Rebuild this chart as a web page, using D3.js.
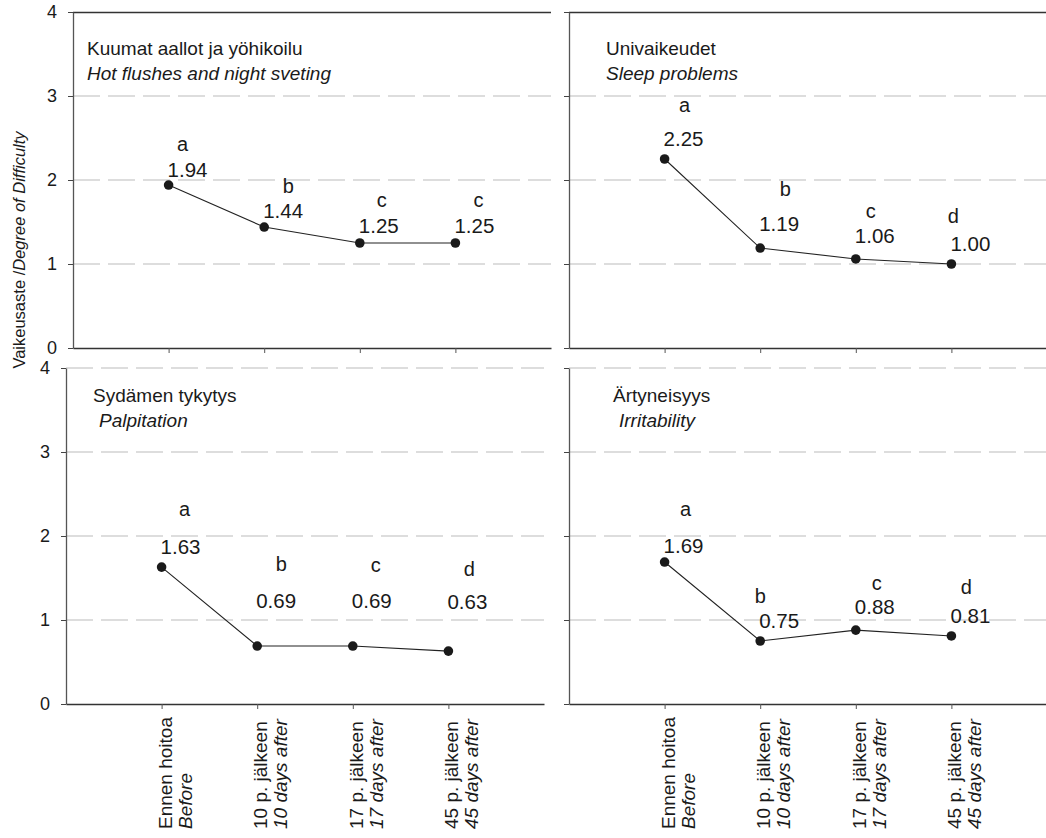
<!DOCTYPE html>
<html>
<head>
<meta charset="utf-8">
<script src="https://cdn.jsdelivr.net/npm/d3@7"></script>
<style>
  body { margin: 0; background: #fff; }
  svg { display: block; font-family: "Liberation Sans", Arial, sans-serif; }
</style>
</head>
<body>
<svg id="chart" width="1046" height="838"></svg>
<script>
// data
const categoriesFi = ["Ennen hoitoa", "10 p. jälkeen", "17 p. jälkeen", "45 p. jälkeen"];
const categoriesEn = ["Before", "10 days after", "17 days after", "45 days after"];
const yTicks = [0, 1, 2, 3, 4];

const hotFlushes = [1.94, 1.44, 1.25, 1.25];
const sleepProblems = [2.25, 1.19, 1.06, 1.00];
const palpitation = [1.63, 0.69, 0.69, 0.63];
const irritability = [1.69, 0.75, 0.88, 0.81];

const hotFlushesSig = ["a", "b", "c", "c"];
const sleepSig = ["a", "b", "c", "d"];
const palpitationSig = ["a", "b", "c", "d"];
const irritabilitySig = ["a", "b", "c", "d"];

// annotation placement (px): value baseline above point, letter offset from value
const hotValueDy = [-8, -9, -10, -10];
const hotLetter = [[14, -26], [24, -25], [22, -26], [23, -26]];
const sleepValueDy = [-13, -17, -16, -13];
const sleepLetter = [[20, -34], [25, -35], [15, -25], [2, -28]];
const palpValueDy = [-13, -38, -38, -42];
const palpLetter = [[23, -38], [24, -37], [23, -36], [21, -33]];
const irrValueDy = [-9, -13, -16, -13];
const irrLetter = [[21, -37], [0, -25], [21, -24], [15, -29]];

const panels = [
  { fi: "Kuumat aallot ja yöhikoilu", en: "Hot flushes and night sveting",
    values: hotFlushes, sig: hotFlushesSig, valueDy: hotValueDy, letter: hotLetter,
    x0: 73, x1: 551, top: 12, bottom: 348, left: true, bottomRow: false,
    titleX: 87, titleY: 55, enIndent: 0 },
  { fi: "Univaikeudet", en: "Sleep problems",
    values: sleepProblems, sig: sleepSig, valueDy: sleepValueDy, letter: sleepLetter,
    x0: 569, x1: 1047, top: 12, bottom: 348, left: false, bottomRow: false,
    titleX: 606, titleY: 55, enIndent: 0 },
  { fi: "Sydämen tykytys", en: "Palpitation",
    values: palpitation, sig: palpitationSig, valueDy: palpValueDy, letter: palpLetter,
    x0: 66, x1: 544, top: 368, bottom: 704, left: true, bottomRow: true,
    titleX: 93, titleY: 402, enIndent: 6 },
  { fi: "Ärtyneisyys", en: "Irritability",
    values: irritability, sig: irritabilitySig, valueDy: irrValueDy, letter: irrLetter,
    x0: 569, x1: 1047, top: 368, bottom: 704, left: false, bottomRow: true,
    titleX: 613, titleY: 402, enIndent: 6 }
];

const svg = d3.select("#chart");
const ink = "#1a1a1a";

panels.forEach(p => {
  const g = svg.append("g");
  const x = d3.scaleLinear().domain([0, 5]).range([p.x0, p.x1]);
  const y = d3.scaleLinear().domain([0, 4]).range([p.bottom, p.top]);

  // dashed grid
  const gridVals = p.bottomRow ? [1, 2, 3, 4] : [1, 2, 3];
  g.selectAll(".grid")
    .data(gridVals)
    .enter()
    .append("line")
    .attr("x1", p.x0)
    .attr("x2", p.x1)
    .attr("y1", d => y(d))
    .attr("y2", d => y(d))
    .attr("stroke", "#d2d2d2")
    .attr("stroke-width", 1.5)
    .attr("stroke-dasharray", "27,8");

  // top frame on upper panels
  if (!p.bottomRow) {
    g.append("line")
      .attr("x1", p.x0).attr("x2", p.x1)
      .attr("y1", y(4) + 0.5).attr("y2", y(4) + 0.5)
      .attr("stroke", "#333").attr("stroke-width", 1.5);
  }

  // y axis
  const yAxis = d3.axisLeft(y)
    .tickValues(yTicks)
    .tickSize(5)
    .tickSizeOuter(0)
    .tickPadding(11)
    .tickFormat(p.left ? d3.format("d") : () => "");
  const ya = g.append("g")
    .attr("transform", `translate(${p.x0},0)`)
    .call(yAxis);
  ya.select(".domain").attr("stroke", "#555").attr("stroke-width", 1.3);
  ya.selectAll(".tick line").attr("stroke", "#444");
  ya.selectAll(".tick text")
    .attr("font-size", "18px")
    .attr("fill", ink)
    .attr("font-family", "Liberation Sans, Arial, sans-serif");

  // x axis
  const xAxis = d3.axisBottom(x)
    .tickValues([1, 2, 3, 4])
    .tickSize(5)
    .tickSizeOuter(0)
    .tickFormat(() => "");
  const xa = g.append("g")
    .attr("transform", `translate(0,${p.bottom})`)
    .call(xAxis);
  xa.select(".domain").attr("stroke", "#333").attr("stroke-width", 1.5);
  xa.selectAll(".tick line").attr("stroke", "#555");

  // rotated category labels under the lower panels
  if (p.bottomRow) {
    categoriesFi.forEach((c, i) => {
      const cx = x(i + 1);
      g.append("text")
        .attr("transform", `translate(${cx + 10},829) rotate(-90)`)
        .attr("font-size", "19px")
        .attr("fill", ink)
        .text(c);
      g.append("text")
        .attr("transform", `translate(${cx + 30},829) rotate(-90)`)
        .attr("font-size", "19px")
        .attr("font-style", "italic")
        .attr("fill", ink)
        .text(categoriesEn[i]);
    });
  }

  // series line + points
  const line = d3.line()
    .x((d, i) => x(i + 1))
    .y(d => y(d));
  g.append("path")
    .datum(p.values)
    .attr("d", line)
    .attr("fill", "none")
    .attr("stroke", "#222")
    .attr("stroke-width", 1.1);

  g.selectAll(".pt")
    .data(p.values)
    .enter()
    .append("circle")
    .attr("cx", (d, i) => x(i + 1))
    .attr("cy", d => y(d))
    .attr("r", 4.8)
    .attr("fill", ink);

  // value labels and significance letters
  p.values.forEach((v, i) => {
    const px = x(i + 1), py = y(v);
    const vb = py + p.valueDy[i];
    g.append("text")
      .attr("x", px - 1)
      .attr("y", vb)
      .attr("font-size", "20.5px")
      .attr("fill", ink)
      .text(v.toFixed(2));
    g.append("text")
      .attr("x", px + p.letter[i][0])
      .attr("y", vb + p.letter[i][1])
      .attr("text-anchor", "middle")
      .attr("font-size", "20px")
      .attr("fill", ink)
      .text(p.sig[i]);
  });

  // panel title
  g.append("text")
    .attr("x", p.titleX)
    .attr("y", p.titleY)
    .attr("font-size", "19px")
    .attr("fill", ink)
    .text(p.fi);
  g.append("text")
    .attr("x", p.titleX + p.enIndent)
    .attr("y", p.titleY + 25)
    .attr("font-size", "19px")
    .attr("font-style", "italic")
    .attr("fill", ink)
    .text(p.en);
});

// shared y-axis title
const yt = svg.append("text")
  .attr("transform", "translate(25,250) rotate(-90)")
  .attr("text-anchor", "middle")
  .attr("font-size", "16.5px")
  .attr("fill", ink);
yt.append("tspan").text("Vaikeusaste /");
yt.append("tspan").attr("font-style", "italic").text("Degree of Difficulty");
</script>
</body>
</html>
